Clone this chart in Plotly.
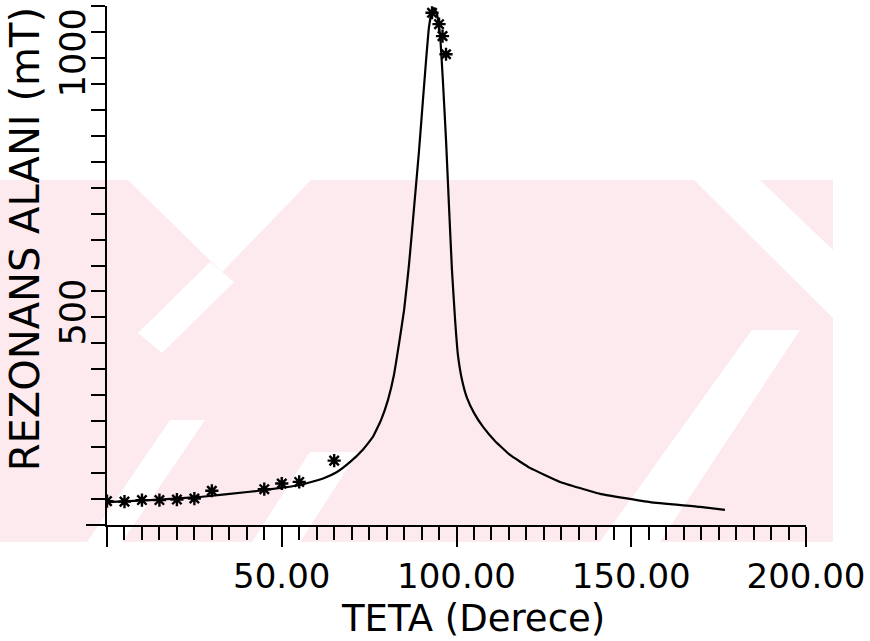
import plotly.graph_objects as go

# Fitted resonance-field curve (theta in degrees, field in mT)
fit_theta = [0, 12.3, 26.6, 40.9, 55.2, 62.0, 65.8, 69.5, 73.2, 76.1, 78.4, 80.4,
             82.1, 83.5, 85.0, 86.4, 87.8, 89.3, 90.4, 91.3, 92.1, 93.0, 93.6,
             94.4, 95.3, 96.1, 97.0, 97.9, 98.7, 99.6, 100.4, 101.6, 103.0,
             105.0, 107.6, 111.0, 115.3, 121.0, 129.6, 141.1, 155.4, 169.7, 176.8]
fit_field = [144, 148, 154, 164, 177, 190, 202, 221, 245, 270, 302, 341,
             389, 447, 514, 601, 707, 823, 919, 996, 1058, 1092, 1096,
             1085, 1044, 957, 842, 707, 591, 495, 428, 379, 345,
             316, 289, 262, 235, 210, 183, 160, 144, 135, 129]

# Measured resonance fields
meas_theta = [0, 5, 10, 15, 20, 25, 30, 45, 50, 55, 65, 93, 95, 96, 97]
meas_field = [146, 145, 148, 148, 149, 151, 166, 169, 180, 183, 224, 1087, 1065, 1042, 1007]

x_tickvals = [0, 50, 100, 150, 200]
x_ticktext = ["", "50.00", "100.00", "150.00", "200.00"]
y_tickvals = list(range(100, 1101, 50))
y_ticktext = ["500" if v == 500 else ("1000" if v == 1000 else "") for v in y_tickvals]

FONT = "DejaVu Sans"
W, H = 870, 641
M = dict(l=107, r=64, t=6, b=116)
PW, PH = W - M["l"] - M["r"], H - M["t"] - M["b"]


def paper_path(points):
    """Closed SVG path in paper units from page-pixel vertices."""
    pts = [((x - M["l"]) / PW, (H - M["b"] - y) / PH) for x, y in points]
    return "M " + " L ".join(f"{px:.4f},{py:.4f}" for px, py in pts) + " Z"


# Faint pink background emblem: a pale band with white diagonal cut-outs
emblem_pink = "#fdeaef"
emblem_band = [(0, 180), (833, 180), (833, 542), (0, 542)]
emblem_cuts = [
    [(128, 180), (311, 180), (222, 272)],
    [(210, 262), (234, 282), (162, 353), (138, 333)],
    [(87, 542), (122, 542), (205, 420), (170, 420)],
    [(252, 542), (300, 542), (358, 452), (310, 452)],
    [(600, 542), (660, 542), (800, 330), (752, 330)],
    [(694, 180), (760, 180), (833, 250), (833, 318)],
]

shapes = [dict(type="path", xref="paper", yref="paper", layer="below",
               path=paper_path(emblem_band), fillcolor=emblem_pink,
               line=dict(width=0))]
for cut in emblem_cuts:
    shapes.append(dict(type="path", xref="paper", yref="paper", layer="below",
                       path=paper_path(cut), fillcolor="white",
                       line=dict(width=0)))
# x-axis baseline continues a little to the left of the y axis
shapes.append(dict(type="line", xref="paper", yref="paper",
                   x0=-21 / PW, x1=0, y0=0, y1=0,
                   line=dict(color="black", width=2)))

fig = go.Figure()
fig.add_trace(go.Scatter(
    x=fit_theta, y=fit_field, mode="lines",
    line=dict(color="black", width=2.2, shape="spline", smoothing=0.3),
    hoverinfo="skip", showlegend=False,
))
fig.add_trace(go.Scatter(
    x=meas_theta, y=meas_field, mode="markers",
    marker=dict(symbol="asterisk", size=11, line=dict(color="black", width=2.4)),
    showlegend=False,
))

fig.update_layout(
    width=W, height=H,
    margin=M,
    paper_bgcolor="white", plot_bgcolor="rgba(0,0,0,0)",
    font=dict(family=FONT, color="black", size=34),
    xaxis=dict(
        range=[0, 200], showgrid=False, zeroline=False,
        showline=True, linecolor="black", linewidth=2,
        tickmode="array", tickvals=x_tickvals, ticktext=x_ticktext,
        ticks="outside", ticklen=20, tickwidth=2, tickcolor="black",
        minor=dict(dtick=5, tick0=0, ticks="outside", ticklen=13,
                   tickwidth=2, tickcolor="black"),
        tickfont=dict(family=FONT, size=34, color="black"),
        ticklabelstandoff=0,
    ),
    yaxis=dict(
        range=[100, 1100], showgrid=False, zeroline=False,
        showline=True, linecolor="black", linewidth=2,
        tickmode="array", tickvals=y_tickvals, ticktext=y_ticktext,
        ticks="outside", ticklen=14, tickwidth=2, tickcolor="black",
        tickangle=-90,
        tickfont=dict(family=FONT, size=35, color="black"),
        ticklabelstandoff=-8,
    ),
    annotations=[
        dict(text="REZONANS ALANI (mT)", textangle=-90,
             xref="paper", yref="paper", x=-0.117, y=0.551,
             xanchor="center", yanchor="middle", showarrow=False,
             font=dict(family=FONT, size=40, color="black")),
        dict(text="TETA (Derece)",
             xref="paper", yref="paper", x=0.524, y=-0.18,
             xanchor="center", yanchor="middle", showarrow=False,
             font=dict(family=FONT, size=37, color="black")),
    ],
    shapes=shapes,
)

fig.write_html("out.html")
